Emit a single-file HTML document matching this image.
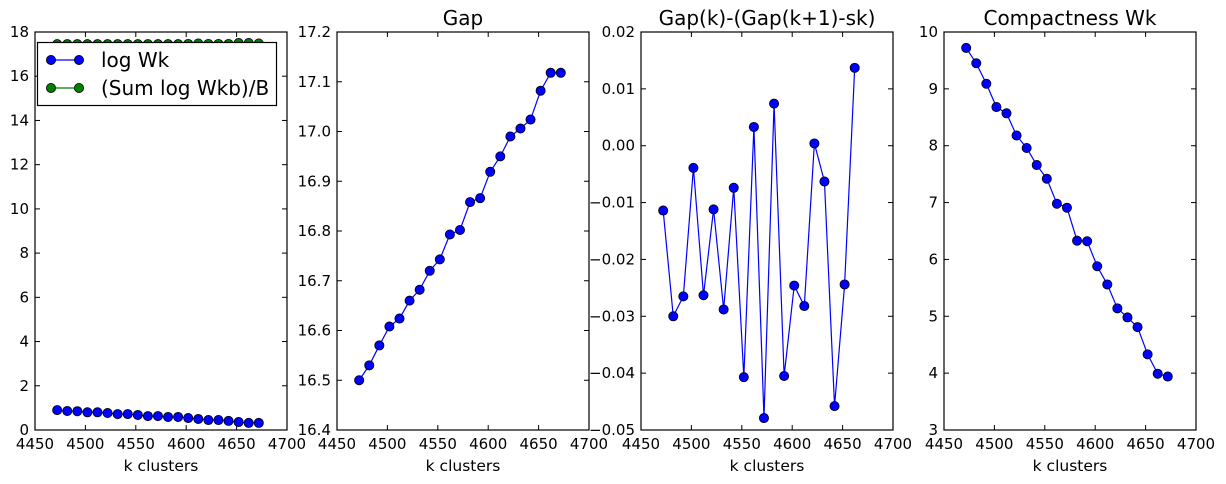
<!DOCTYPE html>
<html><head><meta charset="utf-8"><style>
html,body{margin:0;padding:0;background:#fff;}
svg{display:block;font-family:"DejaVu Sans","Liberation Sans",sans-serif;}
</style></head><body>
<svg id="fig" width="1226" height="484" viewBox="0 0 1226 484"></svg>
<script>
const kValues = [4472,4482,4492,4502,4512,4522,4532,4542,4552,4562,4572,4582,4592,4602,4612,4622,4632,4642,4652,4662,4672];
const logWk = [0.90,0.86,0.85,0.80,0.80,0.77,0.72,0.72,0.68,0.63,0.63,0.59,0.59,0.54,0.50,0.45,0.45,0.41,0.36,0.32,0.32];
const sumLogWkb = [17.45,17.45,17.45,17.45,17.45,17.45,17.45,17.45,17.45,17.45,17.45,17.45,17.45,17.46,17.48,17.46,17.46,17.46,17.5,17.5,17.48];
const gapValues = [16.5,16.53,16.57,16.608,16.624,16.66,16.682,16.72,16.743,16.793,16.802,16.858,16.866,16.919,16.95,16.99,17.006,17.024,17.082,17.118,17.118];
const gapDiff = [-0.0114,-0.030,-0.0265,-0.0039,-0.0263,-0.0112,-0.0288,-0.0074,-0.0407,0.0033,-0.0479,0.0074,-0.0405,-0.0246,-0.0282,0.0004,-0.0063,-0.0458,-0.0244,0.0137];
const compactness = [9.72,9.45,9.09,8.68,8.57,8.18,7.96,7.66,7.42,6.98,6.91,6.33,6.32,5.88,5.56,5.14,4.98,4.81,4.33,3.99,3.94];
const xTicks = [4450,4500,4550,4600,4650,4700];
const yTicks1 = [0,2,4,6,8,10,12,14,16,18];
const yTicks2 = [16.4,16.5,16.6,16.7,16.8,16.9,17.0,17.1,17.2];
const yTicks3 = [-0.05,-0.04,-0.03,-0.02,-0.01,0.00,0.01,0.02];
const yTicks4 = [3,4,5,6,7,8,9,10];

const NS = "http://www.w3.org/2000/svg";
const svg = document.getElementById('fig');
function mk(tag, attrs, parent){
  const e = document.createElementNS(NS, tag);
  for (const k in attrs) e.setAttribute(k, attrs[k]);
  (parent||svg).appendChild(e);
  return e;
}
const TOP=32, BOT=430;
function panel(name, left, right, ymin, ymax, yticks, fmt, title, series){
  const g = mk('g', {});
  
  
  const xs = v => left + (v-4450)/(4700-4450)*(right-left);
  const ys = v => BOT - (v-ymin)/(ymax-ymin)*(BOT-TOP);
  xTicks.forEach(t=>{
    const x = xs(t);
    const tk = mk('g', {}, g);
    
    
    mk('line',{x1:x,x2:x,y1:BOT,y2:BOT-5,stroke:'#000','stroke-width':1},tk);
    mk('line',{x1:x,x2:x,y1:TOP,y2:TOP+5,stroke:'#000','stroke-width':1},tk);
    const tx = mk('text',{x:x,y:BOT+19,'text-anchor':'middle','font-size':15},tk);
    tx.textContent = t;
  });
  yticks.forEach(t=>{
    const y = ys(t);
    const tk = mk('g', {}, g);
    
    
    mk('line',{x1:left,x2:left+5,y1:y,y2:y,stroke:'#000','stroke-width':1},tk);
    mk('line',{x1:right,x2:right-5,y1:y,y2:y,stroke:'#000','stroke-width':1},tk);
    const tx = mk('text',{x:left-6,y:y+5,'text-anchor':'end','font-size':15},tk);
    tx.textContent = fmt(t).replace('-', '\u2212');
  });
  series.forEach(s=>{
    const sg = mk('g', {}, g);
    
    
    const pts = s.data.map((v,i)=>xs(kValues[i]).toFixed(2)+','+ys(v).toFixed(2)).join(' ');
    mk('polyline',{points:pts,fill:'none',stroke:s.color,'stroke-width':1.2},sg);
    s.data.forEach((v,i)=>{
      const c = mk('circle',{cx:xs(kValues[i]),cy:ys(v),r:4.6,fill:s.color,stroke:'#000','stroke-width':0.8},sg);
      
      
    });
  });
  const fr = mk('rect',{x:left,y:TOP,width:right-left,height:BOT-TOP,fill:'none',stroke:'#000','stroke-width':1.2},g);
  
  
  const xl = mk('text',{x:(left+right)/2,y:471,'text-anchor':'middle','font-size':15.5},g);
  
  
  xl.textContent = 'k clusters';
  if (title){
    const tt = mk('text',{x:(left+right)/2,y:25,'text-anchor':'middle','font-size':20},g);
    
    
    tt.textContent = title;
  }
  return g;
}
panel('panel-logwk', 35, 287, 0, 18, yTicks1, v=>String(v), null, [
  {name:'series-sum-log-wkb', data:sumLogWkb, color:'#007f00'},
  {name:'series-log-wk', data:logWk, color:'#0000ff'}
]);
panel('panel-gap', 337, 589, 16.4, 17.2, yTicks2, v=>v.toFixed(1), 'Gap', [
  {name:'series-gap', data:gapValues, color:'#0000ff'}
]);
panel('panel-gap-diff', 641, 893, -0.05, 0.02, yTicks3, v=>v.toFixed(2), 'Gap(k)-(Gap(k+1)-sk)', [
  {name:'series-gap-diff', data:gapDiff, color:'#0000ff'}
]);
panel('panel-compactness', 944, 1196, 3, 10, yTicks4, v=>String(v), 'Compactness Wk', [
  {name:'series-compactness', data:compactness, color:'#0000ff'}
]);
const lg = mk('g', {});


mk('rect',{x:37.5,y:42.5,width:239,height:63,fill:'#fff',stroke:'#000','stroke-width':1.2},lg);
[['log Wk','#0000ff',60],['(Sum log Wkb)/B','#007f00',88]].forEach(([lab,col,y])=>{
  const e = mk('g',{},lg);
  
  
  mk('line',{x1:51,x2:79,y1:y,y2:y,stroke:col,'stroke-width':1.2},e);
  mk('circle',{cx:51,cy:y,r:4.6,fill:col,stroke:'#000','stroke-width':0.8},e);
  mk('circle',{cx:79,cy:y,r:4.6,fill:col,stroke:'#000','stroke-width':0.8},e);
  const t = mk('text',{x:101,y:y+7,'font-size':20},e);
  t.textContent = lab;
});
</script>
</body></html>
